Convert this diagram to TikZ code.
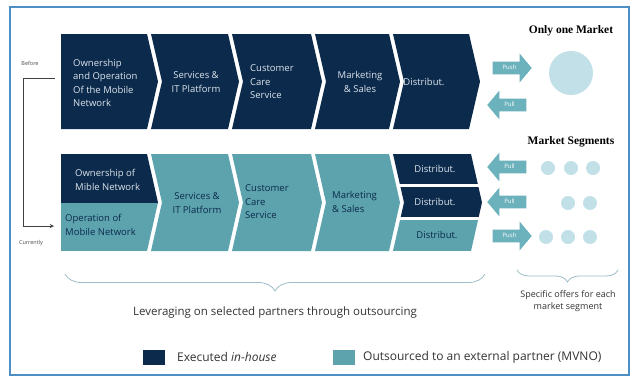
\documentclass[tikz,border=0pt]{standalone}
\usepackage{fontspec}
\setmainfont{Open Sans}
\newfontfamily\headfont{Liberation Serif}
\usetikzlibrary{arrows, shapes.arrows, decorations.pathreplacing}

\definecolor{inhouse}{HTML}{0C2A4B}
\definecolor{outsrc}{HTML}{5DA3AE}
\definecolor{pushpull}{HTML}{6CB2BC}
\definecolor{market}{HTML}{C2E0E7}
\definecolor{frameblue}{HTML}{4D8FC4}
\definecolor{lighttext}{HTML}{DCE5EE}
\definecolor{bracecol}{HTML}{9DBDC9}

% chevron outline: left, right, top, bottom, depth of the left notch
\newcommand{\chev}[5]{(#1,#3) -- (#2,#3) -- ({#2+11},{(#3+#4)/2}) -- (#2,#4) -- (#1,#4) -- ({#1+#5},{(#3+#4)/2}) -- cycle}

\tikzstyle{stage} = [font=\fontsize{9.5}{13.5}\selectfont, align=left, inner sep=0pt]
\tikzstyle{dark} = [stage, text=lighttext]
\tikzstyle{light} = [stage, text=inhouse]
\tikzstyle{note} = [font=\fontsize{5.5}{6}\selectfont, text=black!70, inner sep=0pt]
\tikzstyle{title} = [font=\headfont\bfseries\fontsize{11.5}{13}\selectfont, inner sep=0pt]
\tikzstyle{push} = [single arrow, fill=pushpull, text=white, font=\fontsize{6}{6}\selectfont, text height=4.5pt, text depth=1pt, inner ysep=3.5pt, inner xsep=3pt, minimum height=39pt, single arrow head extend=8pt, single arrow tip angle=100]
\tikzstyle{pull} = [push, shape border rotate=180]
\tikzstyle{dot} = [circle, fill=market, minimum size=14pt, inner sep=0pt]
\tikzstyle{key} = [minimum width=22pt, minimum height=15pt, inner sep=0pt]
\tikzstyle{caption} = [font=\fontsize{11.5}{13}\selectfont, text=black!80, inner sep=0pt]
\tikzstyle{brace} = [draw=bracecol, line width=0.8pt, decorate]
\tikzstyle{arrow} = [draw=black!75, line width=0.9pt, ->, >=stealth]

\begin{document}
\begin{tikzpicture}[x=1pt, y=-1pt]
    \useasboundingbox (0,0) rectangle (632,378);
    \fill[white] (0,0) rectangle (632,378);
    \draw[frameblue, line width=1.2pt] (10,7) rectangle (629,375);

    % value chain before
    \fill[inhouse] \chev{61}{147}{34}{129}{0};
    \fill[inhouse] \chev{151}{228}{34}{129}{11};
    \fill[inhouse] \chev{232}{311}{34}{129}{11};
    \fill[inhouse] \chev{315}{389}{34}{129}{11};
    \fill[inhouse] \chev{393}{469}{34}{129}{11};

    \node (own) [dark, anchor=west] at (73,83) {Ownership\\and Operation\\Of the Mobile\\Network};
    \node (srv) [dark, align=center] at (196,82) {Services \&\\IT Platform};
    \node (care) [dark, anchor=west] at (250,82) {Customer\\Care\\Service};
    \node (mkt) [dark, align=center] at (360,82) {Marketing\\\& Sales};
    \node (dist) [dark] at (424,82) {Distribut.};

    % value chain now
    \begin{scope}
        \clip \chev{61}{147}{154}{251}{0};
        \fill[inhouse] (50,154) rectangle (170,203);
        \fill[outsrc] (50,203) rectangle (170,251);
    \end{scope}
    \fill[outsrc] \chev{151}{228}{154}{251}{11};
    \fill[outsrc] \chev{232}{311}{154}{251}{11};
    \fill[outsrc] \chev{315}{389}{154}{251}{11};
    \begin{scope}
        \clip \chev{393}{471}{154}{251}{11};
        \fill[inhouse] (380,154) rectangle (490,184);
        \fill[inhouse] (380,187) rectangle (490,217);
        \fill[outsrc] (380,220) rectangle (490,251);
    \end{scope}

    \node (own2) [dark, anchor=west] at (75,180) {Ownership of\\Mible Network};
    \node (op2) [light, anchor=west] at (65,225) {Operation of\\Mobile Network};
    \node (srv2) [light, align=center] at (197,203) {Services \&\\IT Platform};
    \node (care2) [light, anchor=west] at (245,202) {Customer\\Care\\Service};
    \node (mkt2) [light, anchor=west] at (332,202) {Marketing\\\& Sales};
    \node (dist2a) [dark] at (435,169) {Distribut.};
    \node (dist2b) [dark] at (435,202) {Distribut.};
    \node (dist2c) [light] at (437,235) {Distribut.};

    % before / currently
    \node (before) [note] at (30,63) {Before};
    \node (now) [note] at (31,243) {Currently};
    \coordinate (was) at (55,78);
    \coordinate (is) at (54,226);
    \draw [arrow] (was) -- ++(-32,0) |- (is);

    % one market
    \node (one) [title] at (571,31) {Only one Market};
    \node (pushA) [push, anchor=tip] at (532,68) {Push};
    \node (pullA) [pull, anchor=tip] at (487,105) {Pull};
    \node (mass) [circle, fill=market, minimum size=44pt, inner sep=0pt] at (571,73) {};

    % market segments
    \node (segs) [title] at (571,142) {Market Segments};
    \node (pullB) [pull, anchor=tip] at (487,167) {Pull};
    \node (pullC) [pull, anchor=tip] at (487,202) {Pull};
    \node (pushB) [push, anchor=tip] at (532,236) {Push};
    \node (s11) [dot] at (548,168) {};
    \node (s12) [dot] at (571,168) {};
    \node (s13) [dot] at (593,168) {};
    \node (s22) [dot] at (568,203) {};
    \node (s23) [dot] at (590,203) {};
    \node (s31) [dot] at (546,237) {};
    \node (s32) [dot] at (568,237) {};
    \node (s33) [dot] at (590,237) {};

    % braces and captions
    \draw [brace, decoration={brace, mirror, amplitude=17pt}] (65,274) -- (485,274);
    \draw [brace, decoration={brace, mirror, amplitude=12pt}] (517,270) -- (618,270);
    \node (lever) [caption] at (275,313) {Leveraging on selected partners through outsourcing};
    \node (offers) [caption, font=\fontsize{9}{12.5}\selectfont, align=center] at (568,301) {Specific offers for each\\market segment};

    % legend
    \node (keyin) [key, fill=inhouse] at (154,357) {};
    \node (keyintxt) [caption, font=\fontsize{12}{13}\selectfont, anchor=west] at (177,357) {Executed \textit{in-house}};
    \node (keyout) [key, fill=outsrc] at (344,357) {};
    \node (keyouttxt) [caption, font=\fontsize{12}{13}\selectfont, anchor=west] at (363,357) {Outsourced to an external partner (MVNO)};
\end{tikzpicture}
\end{document}
